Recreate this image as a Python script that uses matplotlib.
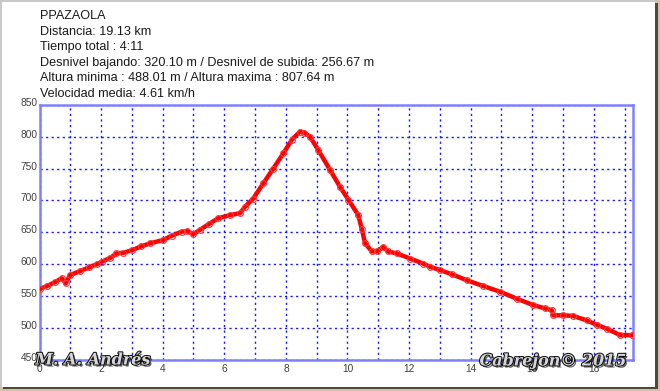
import matplotlib
matplotlib.use("Agg")
import matplotlib.pyplot as plt
import matplotlib.patheffects as pe
from matplotlib.patches import Rectangle
from matplotlib.ticker import MultipleLocator
from matplotlib.transforms import ScaledTranslation

# ---- data ----
dist_km = [0.00, 0.25, 0.50, 0.72, 0.85, 0.99, 1.30, 1.60, 1.86, 2.02, 2.30, 2.50,
           2.72, 3.00, 3.30, 3.60, 4.02, 4.30, 4.62, 4.80, 4.99, 5.21, 5.50, 5.80,
           6.18, 6.51, 6.67, 6.94, 7.27, 7.59, 7.92, 8.19, 8.46, 8.60, 8.78, 9.05,
           9.43, 9.76, 10.03, 10.35, 10.46, 10.57, 10.79, 10.95, 11.16, 11.32, 11.60,
           12.03, 12.46, 12.68, 13.00, 13.40, 13.87, 14.40, 14.95, 15.50, 16.03, 16.40,
           16.63, 16.68, 17.00, 17.33, 17.77, 18.10, 18.42, 18.85, 19.25]
alt_m = [561, 566, 572, 578, 570, 583, 589, 595, 600, 604, 610, 617,
         618, 622, 628, 633, 638, 645, 651, 652, 647, 654, 663, 672,
         677, 680, 690, 703, 727, 750, 774, 795, 808, 806, 800, 779,
         748, 721, 701, 677, 656, 633, 620, 620, 627, 620, 617,
         609, 601, 596, 591, 584, 575, 566, 557, 546, 536, 531,
         528, 520, 520, 519, 512, 505, 499, 489, 489]

header_lines = [
    "PPAZAOLA",
    "Distancia: 19.13 km",
    "Tiempo total : 4:11",
    "Desnivel bajando: 320.10 m / Desnivel de subida: 256.67 m",
    "Altura minima : 488.01 m / Altura maxima : 807.64 m",
    "Velocidad media: 4.61 km/h",
]
x_ticks = [0, 2, 4, 6, 8, 10, 12, 14, 16, 18]
y_ticks = [450, 500, 550, 600, 650, 700, 750, 800, 850]

W, H = 660, 391
fig = plt.figure(figsize=(W / 100, H / 100), dpi=100)
fig.patch.set_facecolor("white")

# frame / drop shadow of the screenshot
def px_rect(x0, y0, x1, y1, color):
    fig.patches.append(Rectangle((x0 / W, 1 - y1 / H), (x1 - x0) / W, (y1 - y0) / H,
                                 transform=fig.transFigure, facecolor=color,
                                 edgecolor="none", zorder=-10))

px_rect(654, 0, 660, 391, "#cfc3a8")
px_rect(0, 386, 660, 391, "#cfc3a8")
px_rect(655, 3, 658, 388, "#4f483e")
px_rect(3, 387, 658, 389, "#4f483e")
px_rect(0, 0, 655, 387, "white")
px_rect(0, 0, 655, 1.5, "#c9c9c9")
px_rect(0, 0, 1.5, 387, "#c9c9c9")

ax = fig.add_axes([39.5 / W, 1 - 360 / H, (633 - 39.5) / W, (360 - 104.7) / H])
ax.set_zorder(1)
ax.set_facecolor("white")
ax.plot(dist_km, alt_m, color="#ff0000", lw=3.2, solid_capstyle="round",
        solid_joinstyle="round", marker="o", ms=4.2,
        mfc="none", mec="#ff3a3a", mew=0.8, zorder=3)

ax.set_xlim(0, 19.27)
ax.set_ylim(450, 850)
ax.set_xticks(x_ticks)
ax.xaxis.set_minor_locator(MultipleLocator(1))
ax.set_yticks(y_ticks)

grid_kw = dict(color="#1a1aff", linestyle=(0, (1.6, 2.4)), linewidth=1.0)
ax.grid(True, which="both", axis="x", **grid_kw)
ax.grid(True, which="major", axis="y", **grid_kw)
ax.set_axisbelow(True)

for s in ax.spines.values():
    s.set_color("#8080ff")
    s.set_linewidth(1.8)

ax.tick_params(axis="both", which="both", direction="in", length=0,
               labelsize=7.3, labelcolor="#404040", pad=1.5)
ax.tick_params(axis="x", pad=3)
for lab in ax.get_yticklabels():
    lab.set_fontfamily("Liberation Sans")
    lab.set_transform(lab.get_transform() + ScaledTranslation(0, 3 / 100, fig.dpi_scale_trans))
for lab in ax.get_xticklabels():
    lab.set_fontfamily("Liberation Sans")

# header text
for i, line in enumerate(header_lines):
    fig.text(40 / W, 1 - (16 + i * 15.6) / H, line, fontsize=9.05,
             family="Liberation Sans", color="#1a1a1a", va="center", ha="left",
             zorder=5)

# watermarks
wm_fx = [pe.withSimplePatchShadow(offset=(1.5, -1.5), shadow_rgbFace="#000000", alpha=0.6),
         pe.Stroke(linewidth=1.5, foreground="#111111"), pe.Normal()]
fig.text(93 / W, 1 - 360 / H, "M. A. Andrés", fontsize=11.5, style="italic",
         weight="bold", family="DejaVu Serif", color="#d5d5d5", ha="center",
         va="center", path_effects=wm_fx, zorder=10)
fig.text(553 / W, 1 - 361 / H, "Cabrejon© 2015", fontsize=11.5, style="italic",
         weight="bold", family="DejaVu Serif", color="#d5d5d5", ha="center",
         va="center", path_effects=wm_fx, zorder=10)

fig.savefig("out.png", dpi=100, facecolor=fig.get_facecolor())
